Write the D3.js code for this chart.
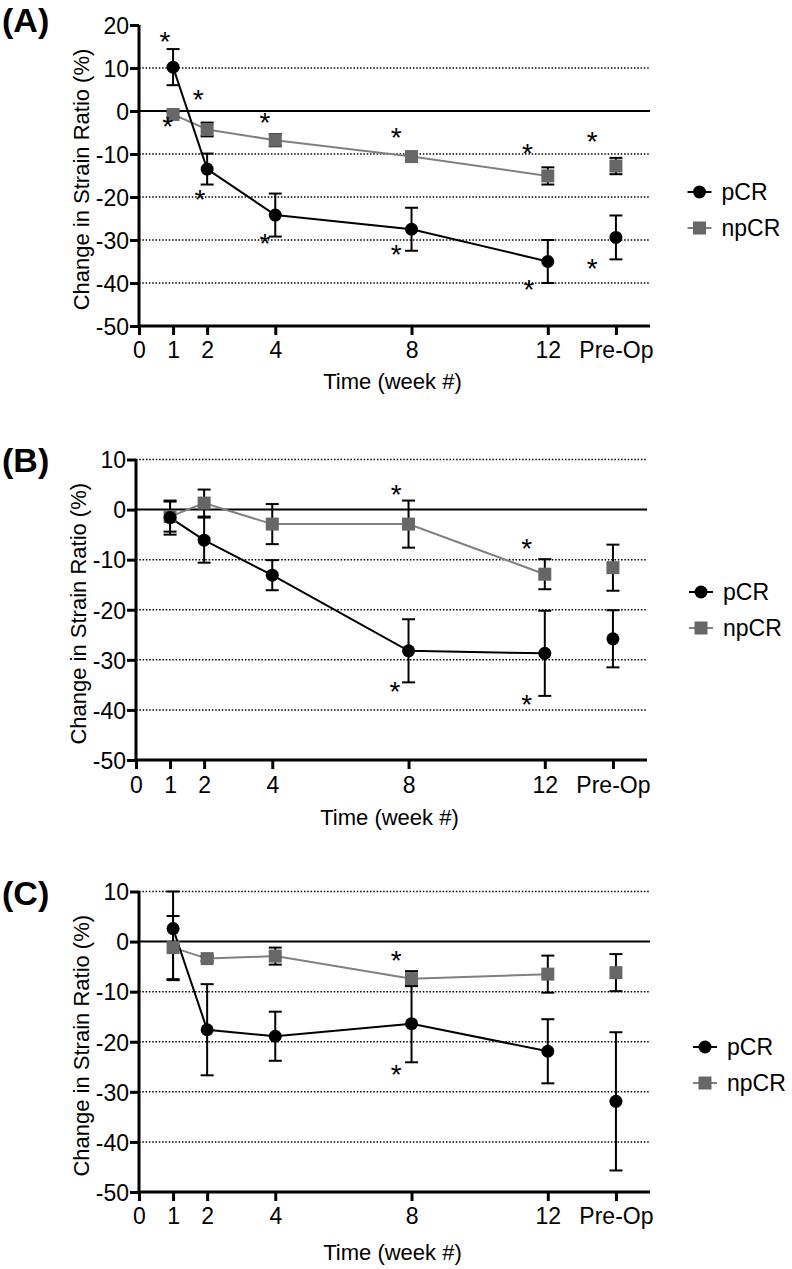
<!DOCTYPE html>
<html><head><meta charset="utf-8">
<script src="https://cdn.jsdelivr.net/npm/d3@7"></script>
<style>body{margin:0;background:#fff}text{font-family:"Liberation Sans",Arial,Helvetica,sans-serif}</style>
</head><body><svg id="c" width="792" height="1269"></svg>
<script>
const weeks = [1, 2, 4, 8, 12, 14];
const tickVals = [0, 1, 2, 4, 8, 12, 14];
const tickLabels = ["0", "1", "2", "4", "8", "12", "Pre-Op"];
const seriesNames = ["pCR", "npCR"];

const pcrA = [10.2, -13.5, -24.2, -27.5, -35.0, -29.4];
const pcrAErr = [4.2, 3.6, 5.0, 5.0, 5.0, 5.1];
const npcrA = [-0.8, -4.3, -6.8, -10.6, -15.1, -12.8];
const npcrAErr = [0.6, 1.6, 1.4, 0.9, 2.0, 1.9];
const starsA = [[0.76, 17.4], [0.84, -2.3], [1.74, 4.0], [1.79, -19.4], [3.7, -1.3], [3.7, -29.5], [7.55, -4.9], [7.55, -32.2], [11.4, -8.5], [11.45, -40.3], [13.3, -5.8], [13.3, -35.3]];

const pcrB = [-1.6, -6.1, -13.1, -28.2, -28.7, -25.8];
const pcrBErr = [3.4, 4.5, 3.0, 6.3, 8.5, 5.7];
const npcrB = [-1.4, 1.3, -2.9, -2.9, -12.9, -11.6];
const npcrBErr = [3.0, 2.7, 4.0, 4.7, 3.0, 4.6];
const starsB = [[7.64, 4.1], [7.6, -35.3], [11.47, -6.6], [11.47, -37.9]];

const pcrC = [2.6, -17.6, -18.9, -16.4, -21.9, -31.9];
const pcrCErr = [10.3, 9.1, 4.9, 7.7, 6.4, 13.8];
const npcrC = [-1.2, -3.4, -2.9, -7.4, -6.5, -6.2];
const npcrCErr = [6.3, 0.5, 1.7, 1.5, 3.7, 3.7];
const starsC = [[7.55, -2.7], [7.55, -25.4]];

const yTicksA = [20, 10, 0, -10, -20, -30, -40, -50];
const yTicksBC = [10, 0, -10, -20, -30, -40, -50];

const svg = d3.select("#c");

const panels = [
  {label: "(A)", labelY: 32, x0: 139, x1: 650, yTop: 25, yBot: 326, yMax: 20, yTicks: yTicksA,
   pcr: pcrA, pcrErr: pcrAErr, npcr: npcrA, npcrErr: npcrAErr, stars: starsA,
   tickY: 358, titleY: 389, legX: 699.5, legY: [192, 228]},
  {label: "(B)", labelY: 472, x0: 136, x1: 647, yTop: 459.5, yBot: 760, yMax: 10, yTicks: yTicksBC,
   pcr: pcrB, pcrErr: pcrBErr, npcr: npcrB, npcrErr: npcrBErr, stars: starsB,
   tickY: 793, titleY: 825, legX: 701, legY: [592, 628]},
  {label: "(C)", labelY: 905, x0: 139, x1: 650, yTop: 891.5, yBot: 1192, yMax: 10, yTicks: yTicksBC,
   pcr: pcrC, pcrErr: pcrCErr, npcr: npcrC, npcrErr: npcrCErr, stars: starsC,
   tickY: 1224, titleY: 1260, legX: 705, legY: [1047, 1083]}
];

const GRAY_M = "#676767", GRAY_L = "#808080";

panels.forEach(p => {
  const x = d3.scaleLinear().domain([0, 15]).range([p.x0, p.x1]);
  const y = d3.scaleLinear().domain([-50, p.yMax]).range([p.yBot, p.yTop]);
  const g = svg.append("g");

  g.append("text").attr("x", 2).attr("y", p.labelY).attr("font-size", 34).attr("font-weight", "bold").text(p.label);

  // gridlines
  g.selectAll(".grid").data(p.yTicks.filter(v => v !== 0 && v !== -50 && v !== 20)).enter()
    .append("line").attr("x1", x(0)).attr("x2", x(15)).attr("y1", d => y(d)).attr("y2", d => y(d))
    .attr("stroke", "#000").attr("stroke-width", 1.5).attr("stroke-dasharray", "1.5,1.8");
  g.append("line").attr("x1", x(0)).attr("x2", x(15)).attr("y1", y(0)).attr("y2", y(0))
    .attr("stroke", "#000").attr("stroke-width", 2);

  // y axis
  const ya = g.append("g").attr("transform", `translate(${x(0)},0)`)
    .call(d3.axisLeft(y).tickValues(p.yTicks).tickSize(9).tickPadding(1).tickFormat(d => String(d)));
  ya.select(".domain").attr("stroke-width", 3).attr("d", `M0,${p.yTop}V${p.yBot}`);
  ya.selectAll(".tick line").attr("stroke-width", 3);
  ya.selectAll("text").attr("font-size", 23).attr("font-family", "Liberation Sans, Arial").attr("fill", "#000").attr("dy", "0.36em");

  // x axis
  const xa = g.append("g").attr("transform", `translate(0,${p.yBot})`)
    .call(d3.axisBottom(x).tickValues(tickVals).tickSize(9).tickFormat((d, i) => tickLabels[i]));
  xa.select(".domain").attr("stroke-width", 3).attr("d", `M${p.x0},0H${p.x1}`);
  xa.selectAll(".tick line").attr("stroke-width", 3);
  xa.selectAll("text").attr("font-size", 23).attr("font-family", "Liberation Sans, Arial").attr("fill", "#000")
    .attr("y", null).attr("dy", null).attr("transform", `translate(0,${p.tickY - p.yBot})`);

  // axis titles
  g.append("text").attr("x", (p.x0 + p.x1) / 2 - 2).attr("y", p.titleY).attr("text-anchor", "middle")
    .attr("font-size", 22).text("Time (week #)");
  g.append("text").attr("transform", `translate(${p.x0 - 50},${(p.yTop + p.yBot) / 2 + 4}) rotate(-90)`)
    .attr("text-anchor", "middle").attr("font-size", 22).text("Change in Strain Ratio (%)");

  const line = d3.line().x(d => x(d[0])).y(d => y(d[1]));
  const conn = (vals) => weeks.slice(0, 5).map((w, i) => [w, vals[i]]);

  g.append("path").attr("d", line(conn(p.npcr))).attr("fill", "none").attr("stroke", GRAY_L).attr("stroke-width", 2);
  g.append("path").attr("d", line(conn(p.pcr))).attr("fill", "none").attr("stroke", "#000").attr("stroke-width", 2);

  const clampY = v => y(Math.max(-50, Math.min(p.yMax, v)));
  const errBars = (vals, errs) => {
    weeks.forEach((w, i) => {
      const top = vals[i] + errs[i], bot = vals[i] - errs[i];
      const cx = x(w);
      g.append("line").attr("x1", cx).attr("x2", cx).attr("y1", clampY(top)).attr("y2", clampY(bot)).attr("stroke", "#000").attr("stroke-width", 2);
      [top, bot].forEach(v => {
        g.append("line").attr("x1", cx - 6.5).attr("x2", cx + 6.5).attr("y1", clampY(v)).attr("y2", clampY(v)).attr("stroke", "#000").attr("stroke-width", 2);
      });
    });
  };
  errBars(p.npcr, p.npcrErr);
  errBars(p.pcr, p.pcrErr);

  g.selectAll(".sq").data(weeks.map((w, i) => [w, p.npcr[i]])).enter().append("rect")
    .attr("x", d => x(d[0]) - 6.5).attr("y", d => y(d[1]) - 6.5).attr("width", 13).attr("height", 13).attr("fill", GRAY_M);
  g.selectAll(".ci").data(weeks.map((w, i) => [w, p.pcr[i]])).enter().append("circle")
    .attr("cx", d => x(d[0])).attr("cy", d => y(d[1])).attr("r", 6.5).attr("fill", "#000");

  g.selectAll(".star").data(p.stars).enter().append("text")
    .attr("x", d => x(d[0])).attr("y", d => y(d[1]) + 15).attr("text-anchor", "middle")
    .attr("font-size", 28).text("*");

  // legend
  seriesNames.forEach((name, i) => {
    const ly = p.legY[i];
    g.append("line").attr("x1", p.legX - 12).attr("x2", p.legX + 12).attr("y1", ly).attr("y2", ly)
      .attr("stroke", i === 0 ? "#000" : GRAY_L).attr("stroke-width", 2);
    if (i === 0) g.append("circle").attr("cx", p.legX).attr("cy", ly).attr("r", 6.5).attr("fill", "#000");
    else g.append("rect").attr("x", p.legX - 6.5).attr("y", ly - 6.5).attr("width", 13).attr("height", 13).attr("fill", GRAY_M);
    g.append("text").attr("x", p.legX + 22).attr("y", ly + 8).attr("font-size", 23).text(name);
  });
});
</script></body></html>
